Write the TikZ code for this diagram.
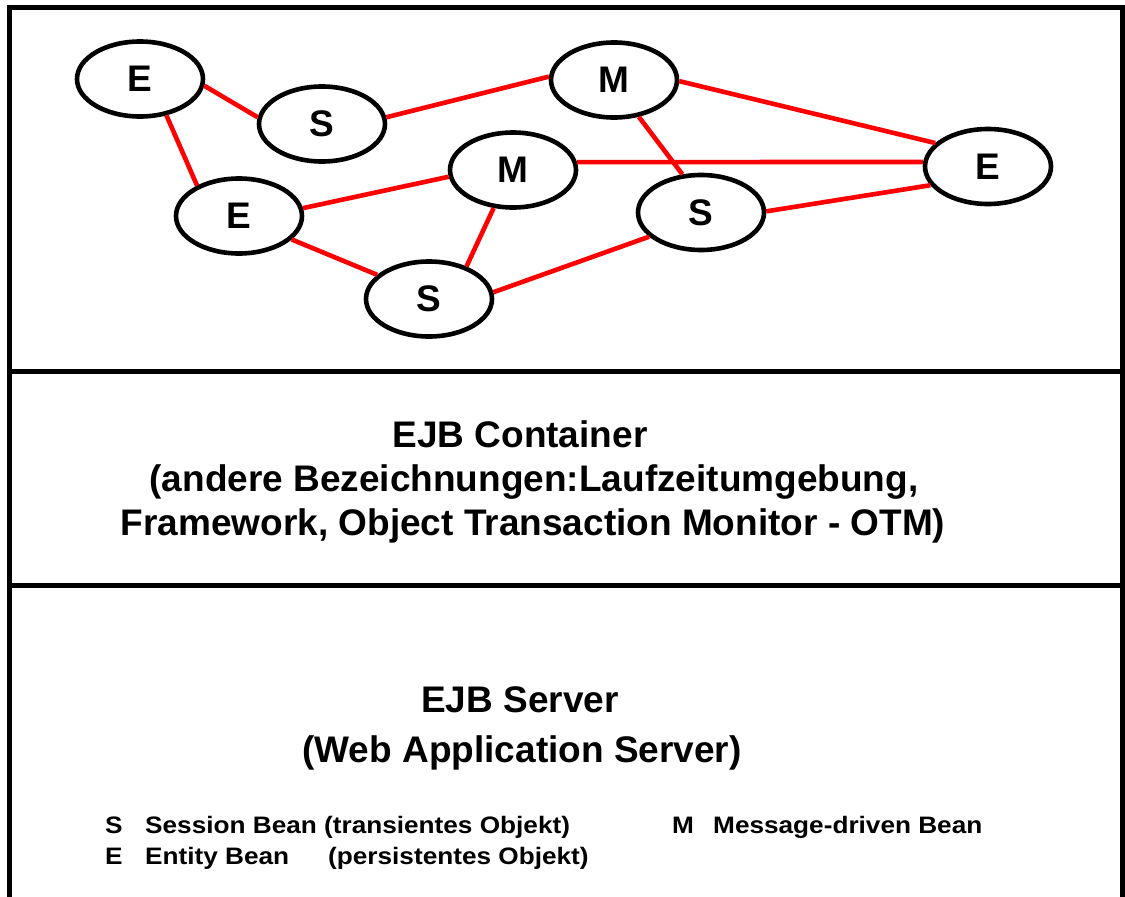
\documentclass[tikz,border=0pt]{standalone}
\usepackage{fontspec}
\setmainfont{Liberation Sans}
\newfontfamily\legendfont{Liberation Sans}[FakeStretch=1.1]
\usetikzlibrary{shapes.geometric}
\definecolor{linkred}{RGB}{255,0,0}
\tikzset{
  bean/.style={ellipse, draw=black, line width=4.6pt, minimum width=126pt, minimum height=75pt,
    inner sep=0pt, fill=white, font=\fontsize{37}{40}\selectfont\bfseries},
  link/.style={draw=linkred, line width=4.6pt},
  frame/.style={draw=black, line width=5pt},
  title/.style={anchor=base, inner sep=0pt, font=\fontsize{37}{40}\selectfont\bfseries},
  legend/.style={anchor=base west, inner sep=0pt, font=\legendfont\fontsize{23.8}{26}\selectfont\bfseries}
}
\begin{document}
\begin{tikzpicture}[x=1pt,y=-1pt]
\useasboundingbox (0,0) rectangle (1125,897);
% frame
\draw[frame] (9,905) -- (9,7.5) -- (1122,7.5) -- (1122,905);
\draw[frame] (9,371.5) -- (1122,371.5);
\draw[frame] (9,585.5) -- (1122,585.5);
% beans
\node[bean] (E1) at (140,79) {E};
\node[bean] (S1) at (322,124) {S};
\node[bean] (M1) at (614,80) {M};
\node[bean] (E3) at (988,166.5) {E};
\node[bean] (S2) at (701,212.5) {S};
\node[bean] (M2) at (513,170) {M};
\node[bean] (E2) at (239,216) {E};
\node[bean] (S3) at (429,299) {S};
% links
\draw[link] (E1.-6) -- (S1.174);
\draw[link] (E1.-54) -- (E2.144);
\draw[link] (S1.6) -- (M1.177);
\draw[link] (M1.-1) -- (E3.156);
\draw[link] (M1.-56) -- (S2.116);
\draw[link] (M2.7) -- (E3.176);
\draw[link] (S2.1) -- (E3.-162);
\draw[link] (S3.6) -- (S2.205);
\draw[link] (E2.7) -- (M2.186);
\draw[link] (E2.-24) -- (S3.155);
\draw[link] (S3.41) -- (M2.243);
% container text
\node[title] (c1) at (520,447) {EJB Container};
\node[title] (c2) at (534,491) {(andere Bezeichnungen:Laufzeitumgebung,};
\node[title] (c3) at (533,535) {Framework, Object Transaction Monitor - OTM)};
% server text
\node[title] (s1) at (520,712.5) {EJB Server};
\node[title] (s2) at (522,762) {(Web Application Server)};
% legend
\node[legend] (lS) at (105,833) {S};
\node[legend] (lSt) at (145,833) {Session Bean (transientes Objekt)};
\node[legend] (lE) at (105,864) {E};
\node[legend] (lEt) at (145,864) {Entity Bean};
\node[legend] (lEp) at (328,864) {(persistentes Objekt)};
\node[legend] (lM) at (672,833) {M};
\node[legend] (lMt) at (713,833) {Message-driven Bean};
\end{tikzpicture}
\end{document}
